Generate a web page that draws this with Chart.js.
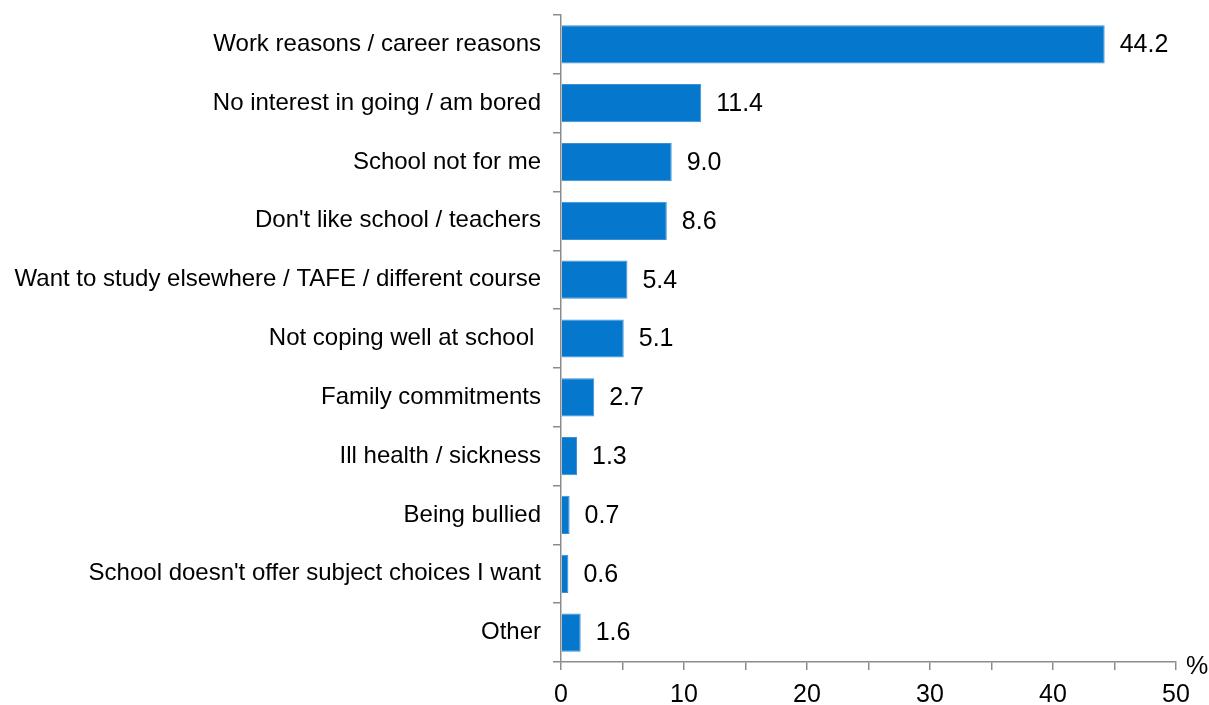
<!DOCTYPE html>
<html lang="en">
<head>
    <meta charset="UTF-8">
    <title>Reasons for leaving school</title>
    <script src="https://cdn.jsdelivr.net/npm/chart.js"></script>
    <style>
        body { margin: 0; background: #fff; }
    </style>
</head>
<body>
    <canvas id="reasonsChart" width="1209" height="705"></canvas>

    <script>
        const reasons = [
            'Work reasons / career reasons',
            'No interest in going / am bored',
            'School not for me',
            "Don't like school / teachers",
            'Want to study elsewhere / TAFE / different course',
            'Not coping well at school ',
            'Family commitments',
            'Ill health / sickness',
            'Being bullied',
            "School doesn't offer subject choices I want",
            'Other'
        ];
        const percentages = [44.2, 11.4, 9.0, 8.6, 5.4, 5.1, 2.7, 1.3, 0.7, 0.6, 1.6];
        const xTickLabels = [0, 10, 20, 30, 40, 50];

        const axisGrey = '#8c8c8c';
        const fontFamily = '"Liberation Sans", Arial, sans-serif';

        // draws the value next to each bar and the % unit at the end of the axis
        const valueLabels = {
            id: 'valueLabels',
            afterDatasetsDraw(chart) {
                const ctx = chart.ctx;
                const meta = chart.getDatasetMeta(0);
                ctx.save();
                ctx.font = '25px ' + fontFamily;
                ctx.fillStyle = '#000';
                ctx.textBaseline = 'middle';
                ctx.textAlign = 'left';
                meta.data.forEach((bar, i) => {
                    ctx.fillText(percentages[i].toFixed(1), bar.x + 15, bar.y + 1);
                });
                const xs = chart.scales.x;
                ctx.textBaseline = 'alphabetic';
                ctx.fillText('%', xs.right + 10, xs.top + 12);
                ctx.restore();
            }
        };

        new Chart(document.getElementById('reasonsChart'), {
            type: 'bar',
            data: {
                labels: reasons,
                datasets: [{
                    data: percentages,
                    backgroundColor: '#0577cc',
                    borderColor: '#3d8fd4',
                    borderWidth: 1,
                    categoryPercentage: 1,
                    barPercentage: 0.65
                }]
            },
            options: {
                indexAxis: 'y',
                responsive: false,
                animation: false,
                layout: { padding: { top: 15, right: 33, bottom: 0, left: 0 } },
                plugins: {
                    legend: { display: false },
                    tooltip: { enabled: false }
                },
                scales: {
                    x: {
                        min: 0,
                        max: 50,
                        afterFit: s => { s.height = 43; },
                        border: { display: true, color: axisGrey, width: 1.5 },
                        grid: { drawOnChartArea: false, drawTicks: true, tickLength: 8, color: axisGrey, lineWidth: 1.5 },
                        ticks: {
                            stepSize: 5,
                            autoSkip: false,
                            maxRotation: 0,
                            padding: 10,
                            color: '#000',
                            font: { size: 25, family: fontFamily },
                            callback: v => xTickLabels.includes(v) ? String(v) : ''
                        }
                    },
                    y: {
                        afterFit: s => {
                            s.width = 561;
                            s.paddingTop = 0;
                            s.paddingBottom = 0;
                        },
                        border: { display: true, color: axisGrey, width: 1.5 },
                        grid: { drawOnChartArea: false, drawTicks: true, tickLength: 8, color: axisGrey, lineWidth: 1.5, offset: true },
                        ticks: {
                            padding: 12,
                            color: '#000',
                            font: { size: 24, family: fontFamily }
                        }
                    }
                }
            },
            plugins: [valueLabels]
        });
    </script>
</body>
</html>
